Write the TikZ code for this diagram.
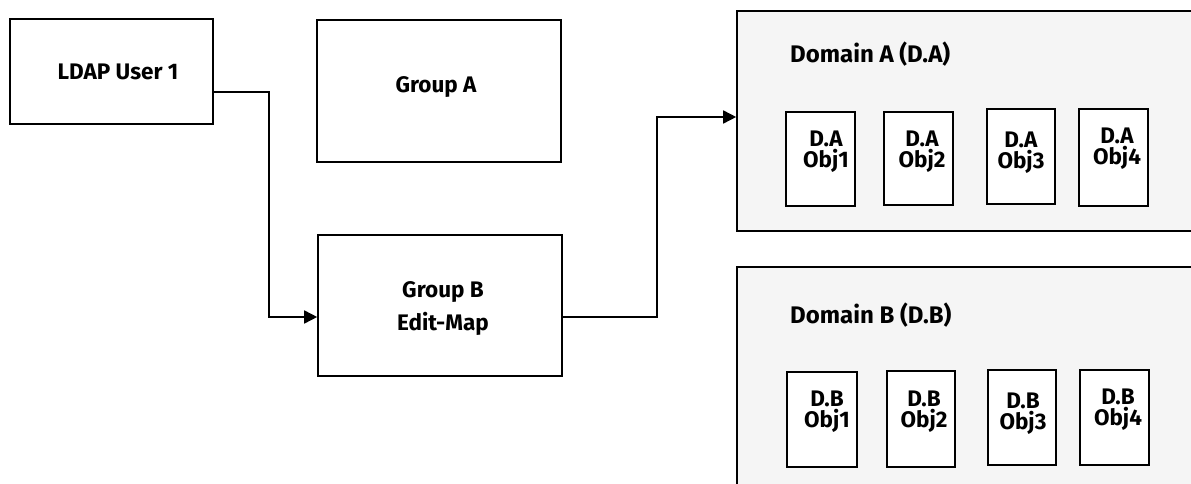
\documentclass[tikz,border=0pt]{standalone}
\usepackage{fontspec}
\setmainfont{Fira Sans}
\usetikzlibrary{arrows.meta}
\begin{document}
\begin{tikzpicture}[x=1pt,y=-1pt,
  box/.style={draw=black,line width=1.6pt,fill=white,inner sep=0pt},
  dom/.style={draw=black,line width=1.6pt,fill=black!4,inner sep=0pt},
  lbl/.style={font=\bfseries\fontsize{22.5}{33}\selectfont,align=center,inner sep=0pt},
  tlbl/.style={font=\bfseries\fontsize{24}{26}\selectfont,anchor=west,inner sep=0pt},
  olbl/.style={font=\bfseries\fontsize{22.5}{21}\selectfont,align=center,inner sep=0pt},
  conn/.style={line width=1.6pt,-{Triangle[length=13pt,width=13pt]}}]
\useasboundingbox (0,0) rectangle (1191,484);
% main boxes
\node[box,minimum width=203pt,minimum height=105pt] (ldap) at (111.5,71.5) {};
\node[lbl] at (118,72) {LDAP User 1};
\node[box,minimum width=244pt,minimum height=142pt] (ga) at (439,91) {};
\node[lbl] at (436,87) {Group A};
\node[box,minimum width=244pt,minimum height=141pt] (gb) at (440,305.5) {};
\node[lbl] at (443,309) {Group B\\Edit-Map};
% domains
\node[dom,minimum width=470pt,minimum height=220pt] (da) at (972,121) {};
\node[dom,minimum width=470pt,minimum height=240pt] (db) at (972,387) {};
\node[tlbl] at (790,54) {Domain A (D.A)};
\node[tlbl] at (790,315) {Domain B (D.B)};
% objects A
\node[box,minimum width=69pt,minimum height=94pt] (a1) at (820.5,159) {};
\node[box,minimum width=69pt,minimum height=93pt] (a2) at (918.5,158.5) {};
\node[box,minimum width=68pt,minimum height=95pt] (a3) at (1021,156.5) {};
\node[box,minimum width=69pt,minimum height=97pt] (a4) at (1113.5,157.5) {};
\node[olbl] at (826,152) {D.A\\Obj1};
\node[olbl] at (922,152) {D.A\\Obj2};
\node[olbl] at (1021,153) {D.A\\Obj3};
\node[olbl] at (1117,149) {D.A\\Obj4};
% objects B
\node[box,minimum width=70pt,minimum height=95pt] (b1) at (822,419.5) {};
\node[box,minimum width=68pt,minimum height=96pt] (b2) at (921,419) {};
\node[box,minimum width=68pt,minimum height=95pt] (b3) at (1022,417.5) {};
\node[box,minimum width=69pt,minimum height=95pt] (b4) at (1114.5,417.5) {};
\node[olbl] at (827,412) {D.B\\Obj1};
\node[olbl] at (924,412) {D.B\\Obj2};
\node[olbl] at (1023,414) {D.B\\Obj3};
\node[olbl] at (1118,410) {D.B\\Obj4};
% connectors
\coordinate (p1) at (269,92);
\coordinate (p2) at (657,317);
\draw[conn] (ldap.east |- p1) -- (p1) |- (gb.west |- 0,317);
\draw[conn] (gb.east |- p2) -- (p2) |- (da.west |- 0,117);
\end{tikzpicture}
\end{document}
